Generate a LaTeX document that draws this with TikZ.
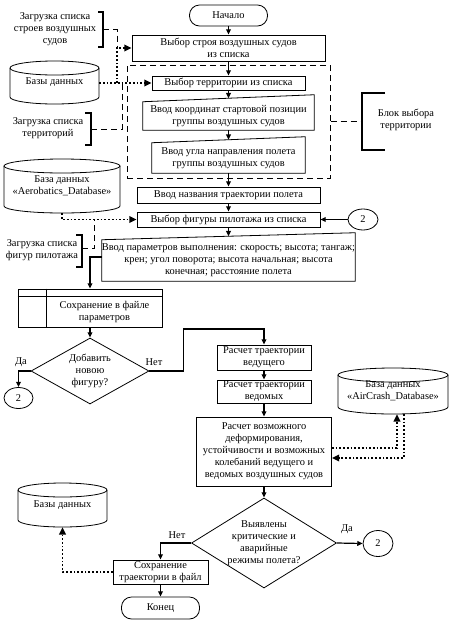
\documentclass[tikz,border=0pt]{standalone}
\usepackage{fontspec}
\setmainfont{Liberation Serif}
\usetikzlibrary{shapes.geometric,arrows.meta,calc}
\newcommand\dbcyl[6]{%
 \node[txt, minimum width={(#4-#2)*0.75pt}, minimum height={(#5-#3)*0.75pt}] (#1) at ({(#2+#4)/2},{(#3+#5)/2}) {#6};
 \draw[bd] ({(#2+#4)/2},{#3+7}) ellipse [x radius={(#4-#2)*0.375pt}, y radius=5.25pt];
 \draw[bd] (#2,{#3+7}) -- (#2,{#5-7}) arc[start angle=180, end angle=360, x radius={(#4-#2)*0.375pt}, y radius=5.25pt] -- (#4,{#3+7});
}
\begin{document}
\begin{tikzpicture}[x=0.75pt,y=-0.75pt,
  font=\fontsize{7.8}{9}\selectfont,
  bd/.style={line width=0.6pt},
  box/.style={draw, line width=0.6pt, inner sep=0pt, align=center},
  sz/.style 2 args={minimum width=#1*0.75pt, minimum height=#2*0.75pt},
  term/.style={box, rounded corners=7.5pt},
  txt/.style={inner sep=0pt, align=center},
  mi/.style={inner sep=0pt, align=center},
  dia/.style={draw, line width=0.6pt, diamond, inner sep=0pt},
  conn/.style={draw, line width=0.6pt, ellipse, inner sep=0pt},
  flow/.style={line width=0.9pt, -{Triangle[length=4pt,width=3.6pt]}},
  dotl/.style={line width=1.3pt, dash pattern=on 1.3pt off 1.5pt},
  dotarrow/.style={dotl, -{Triangle[length=5.5pt,width=5pt]}},
  dashl/.style={line width=0.75pt, dash pattern=on 4.5pt off 3pt},
  brk/.style={line width=1pt},
]
\useasboundingbox (0,0) rectangle (457,622);

% main column
\node[term, sz={78}{21}] (start) at (228.5,15.5) {Начало};
\node[box, sz={193}{26}] (vs) at (228.5,48) {Выбор строя воздушных судов\\из списка};
\node[draw, dashl, inner sep=0pt, sz={203}{113}] (blk) at (228.5,121.5) {};
\node[box, sz={153}{14}] (vt) at (228.5,83) {Выбор территории из списка};
\node[mi, sz={171}{28}] (vk) at (228.5,116) {Ввод координат стартовой позиции\\группы воздушных судов};
\draw[bd] (vk.south west) -- (vk.south east) -- ($(vk.north east)+(0,-7)$) -- (vk.north west) -- cycle;
\node[mi, sz={153}{30}] (vu) at (228.5,158) {Ввод угла направления полета\\группы воздушных судов};
\draw[bd] (vu.south west) -- (vu.south east) -- ($(vu.north east)+(0,-6)$) -- (vu.north west) -- cycle;
\node[box, sz={183}{16}] (vn) at (228.5,195) {Ввод названия траектории полета};
\node[box, sz={183}{15}] (vf) at (228.5,219.5) {Выбор фигуры пилотажа из списка};
\node[conn, sz={30}{21}] (c2a) at (363,219.5) {2};
\node[mi, sz={251}{41}] (vp) at (228.5,260.5) {Ввод параметров выполнения: скорость; высота; тангаж;\\крен; угол поворота; высота начальная; высота\\конечная; расстояние полета};
\draw[bd] (vp.south west) -- (vp.south east) -- ($(vp.north east)+(0,-7)$) -- (vp.north west) -- cycle;

% save parameters
\node[box, sz={144}{38}] (sp) at (90,308) {};
\draw[bd] ($(sp.north west)+(29,0)$) -- ($(sp.south west)+(29,0)$);
\draw[bd] ($(sp.north west)+(0,8)$) -- ($(sp.north east)+(0,8)$);
\node[txt] (spt) at (104.5,312) {Сохранение в файле\\параметров};

\node[dia, sz={118}{66}] (d1) at (90,371) {};
\node[txt] (d1t) at (d1) {Добавить\\новою\\фигуру?};
\node[conn, sz={29}{21}] (c2b) at (18.5,398) {2};
\node[txt] (da1) at (21,362) {Да};
\node[txt] (net1) at (154,362) {Нет};

\node[box, sz={94}{25}] (rv) at (264,357.5) {Расчет траектории\\ведущего};
\node[box, sz={94}{23}] (rm) at (264,391.5) {Расчет траектории\\ведомых};
\node[box, sz={135}{69}] (rd) at (264,451.5) {Расчет возможного\\деформирования,\\устойчивости и возможных\\колебаний ведущего и\\ведомых воздушных судов};

\node[dia, sz={145}{90}] (d2) at (264,543) {};
\node[txt] (d2t) at (d2) {Выявлены\\критические и\\аварийные\\режимы полета?};
\node[conn, sz={30}{26}] (c2c) at (378,543.5) {2};
\node[txt] (da2) at (347,529) {Да};
\node[txt] (net2) at (177,535) {Нет};
\node[box, sz={95}{24}] (ss) at (160.5,572) {Сохранение\\траектории в файл};
\node[term, sz={78}{22}] (fin) at (160.5,608) {Конец};

% databases
\dbcyl{db1}{10}{61}{99}{104}{Базы данных}
\dbcyl{db2}{4}{159}{120}{213}{База данных\\«Aerobatics\_Database»}
\dbcyl{db3}{338}{368}{448}{414}{База данных\\«AirCrash\_Database»}
\dbcyl{db4}{18}{483}{107}{527}{Базы данных}

% annotations
\node[txt] (l1) at (55,29.5) {Загрузка списка\\строев воздушных\\судов};
\draw[brk] (98,12) -- (103,12) -- (103,47) -- (98,47);
\coordinate (b1) at (103,29.5);
\node[txt] (l2) at (48,128.5) {Загрузка списка\\территорий};
\draw[brk] (85,113) -- (91,113) -- (91,145) -- (85,145);
\coordinate (b2) at (91,129);
\node[txt] (l3) at (42,250) {Загрузка списка\\фигур пилотажа};
\draw[brk] (76,235) -- (82,235) -- (82,267) -- (76,267);
\coordinate (b3) at (82,248);
\node[txt] (l4) at (406,120) {Блок выбора\\территории};
\draw[brk] (385,93) -- (362,93) -- (362,150) -- (385,150);
\coordinate (b4) at (362,121.5);

% flow connectors
\draw[flow] (start.south) -- (vs.north);
\draw[flow] (vs.south) -- (vt.north);
\draw[flow] (vt.south) -- ($(vk.north)+(0,-3.5)$);
\draw[flow] (vk.south) -- ($(vu.north)+(0,-3)$);
\draw[flow] (vu.south) -- (vn.north);
\draw[flow] (vn.south) -- (vf.north);
\draw[flow] (vf.south) -- ($(vp.north)+(0,-3.5)$);
\draw[flow] (c2a.west) -- (vf.east);
\draw[flow] ($(vp.west)+(0,-3.5)$) -| (sp.north);
\draw[flow] (sp.south) -- (d1.north);
\draw[flow] (d1.west) -| (c2b.north);
\draw[flow] (d1.east) -| ++(34,-42) -| (rv.north);
\draw[flow] (rv.south) -- (rm.north);
\draw[flow] (rm.south) -- (rd.north);
\draw[flow] (rd.south) -- (d2.north);
\draw[flow] (d2.east) -- (c2c.west);
\draw[flow] (d2.west) -| (ss.north);
\draw[flow] (ss.south) -- (fin.north);

% dotted data links
\coordinate (j1) at (117,83);
\coordinate (j2) at (j1 |- vs.west);
\coordinate (j3) at (122,83);
\coordinate (j4) at ($(vf.west)+(-42,0)$);
\draw[dotarrow] (db1.east |- vt.west) -- (vt.west);
\draw[dotarrow] (j1) |- (vs.west);
\draw[dotarrow] (db2.south) |- (vf.west);
\draw[dotarrow] ($(rd.east)+(0,-3.5)$) -| ($(db3.south)+(4,0)$);
\draw[dotarrow] ($(db3.south)+(11,0)$) |- ($(rd.east)+(0,6.5)$);
\draw[dotarrow] (ss.west) -| (db4.south);

% dashed annotation links
\draw[dashl] (b1) -| (j2);
\draw[dashl] (b2) -| (j3);
\draw[dashl] (b3) -| (j4);
\draw[dashl] (blk.east) -- (b4);
\end{tikzpicture}
\end{document}
